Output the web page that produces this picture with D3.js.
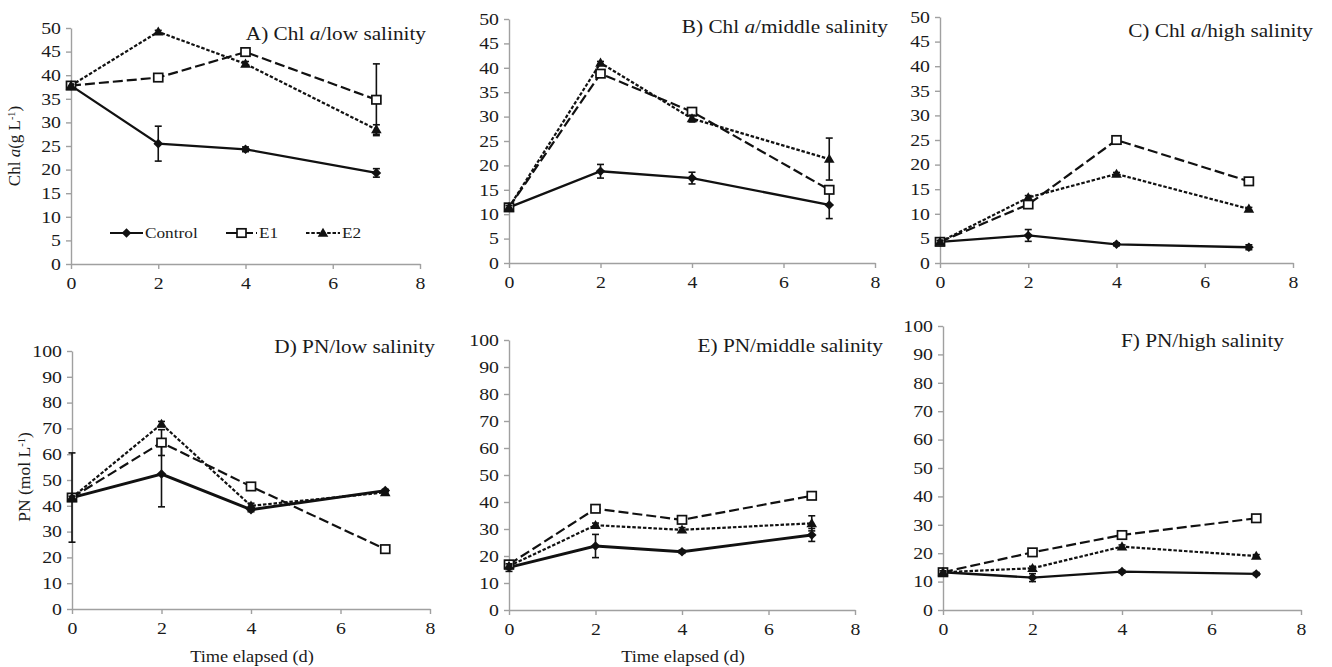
<!DOCTYPE html>
<html>
<head>
<meta charset="utf-8">
<script src="https://cdn.jsdelivr.net/npm/d3@7"></script>
<style>
  body { margin: 0; background: #fff; }
  text { font-family: "Liberation Serif", "Times New Roman", serif; fill: #1a1a1a; }
</style>
</head>
<body>
<div id="chart"></div>
<script>
// sampling days and tick labels
const days = [0, 2, 4, 7];
const xTickValues = [0, 2, 4, 6, 8];
const chlTickValues = [0, 5, 10, 15, 20, 25, 30, 35, 40, 45, 50];
const pnTickValues = [0, 10, 20, 30, 40, 50, 60, 70, 80, 90, 100];
const seriesNames = ["Control", "E1", "E2"];

// A) Chl a / low salinity
const chlLowControl = [37.8, 25.5, 24.3, 19.3];
const chlLowControlErr = [0, 3.7, 0.5, 0.9];
const chlLowE1 = [37.8, 39.5, 44.9, 34.8];
const chlLowE1Err = [0, 0.5, 0.5, 7.6];
const chlLowE2 = [37.8, 49.2, 42.4, 28.5];
const chlLowE2Err = [0, 0.3, 0.5, 1.0];

// B) Chl a / middle salinity
const chlMidControl = [11.4, 18.8, 17.4, 11.9];
const chlMidControlErr = [0.5, 1.4, 1.2, 2.8];
const chlMidE1 = [11.4, 38.8, 31.0, 15.0];
const chlMidE1Err = [0.4, 0.5, 0.5, 0.6];
const chlMidE2 = [11.4, 41.0, 29.6, 21.3];
const chlMidE2Err = [0.4, 0.3, 0.7, 4.3];

// C) Chl a / high salinity
const chlHighControl = [4.3, 5.6, 3.8, 3.2];
const chlHighControlErr = [0.4, 1.2, 0.3, 0.5];
const chlHighE1 = [4.3, 11.9, 25.0, 16.6];
const chlHighE1Err = [0.3, 0.5, 0.5, 0.5];
const chlHighE2 = [4.3, 13.3, 18.1, 11.0];
const chlHighE2Err = [0.3, 0.4, 0.3, 0.3];

// D) PN / low salinity
const pnLowControl = [43.2, 52.3, 38.5, 45.9];
const pnLowControlErr = [17.3, 12.7, 0.8, 0.5];
const pnLowE1 = [43.2, 64.5, 47.5, 23.2];
const pnLowE1Err = [0.5, 5.0, 0.8, 0.8];
const pnLowE2 = [43.2, 71.7, 40.0, 45.2];
const pnLowE2Err = [0.5, 1.0, 1.0, 0.8];

// E) PN / middle salinity
const pnMidControl = [15.8, 23.7, 21.6, 27.8];
const pnMidControlErr = [1.5, 4.3, 0.6, 2.4];
const pnMidE1 = [16.9, 37.5, 33.4, 42.3];
const pnMidE1Err = [0.6, 0.8, 0.8, 0.6];
const pnMidE2 = [16.3, 31.4, 29.7, 32.1];
const pnMidE2Err = [0.8, 0.8, 0.8, 2.8];

// F) PN / high salinity
const pnHighControl = [13.3, 11.4, 13.5, 12.7];
const pnHighControlErr = [0.8, 1.4, 0.5, 0.5];
const pnHighE1 = [13.3, 20.3, 26.4, 32.3];
const pnHighE1Err = [0.5, 0.6, 0.6, 0.6];
const pnHighE2 = [13.3, 14.7, 22.3, 19.0];
const pnHighE2Err = [0.5, 0.7, 0.6, 0.5];

const W = 1332, H = 667;
const SX = 1.15; // the figure is a bit wider than tall, stretch text to match
const TICK_SX = 1.2;

const panels = [
  {title: ["A) Chl ", "a", "/low salinity"], left: 71, right: 420, top: 28, bottom: 264, ymax: 50, ticks: chlTickValues,
   tx: 426, ty: 40, lw: 2.3, vals: [chlLowControl, chlLowE1, chlLowE2], errs: [chlLowControlErr, chlLowE1Err, chlLowE2Err]},
  {title: ["B) Chl ", "a", "/middle salinity"], left: 509, right: 875, top: 19, bottom: 263, ymax: 50, ticks: chlTickValues,
   tx: 888, ty: 33, lw: 2.3, vals: [chlMidControl, chlMidE1, chlMidE2], errs: [chlMidControlErr, chlMidE1Err, chlMidE2Err]},
  {title: ["C) Chl ", "a", "/high salinity"], left: 940, right: 1293, top: 17, bottom: 263, ymax: 50, ticks: chlTickValues,
   tx: 1313, ty: 37, lw: 2.3, vals: [chlHighControl, chlHighE1, chlHighE2], errs: [chlHighControlErr, chlHighE1Err, chlHighE2Err]},
  {title: ["D) PN/low salinity"], left: 72, right: 430, top: 351, bottom: 609, ymax: 100, ticks: pnTickValues,
   tx: 435, ty: 353, lw: 2.9, vals: [pnLowControl, pnLowE1, pnLowE2], errs: [pnLowControlErr, pnLowE1Err, pnLowE2Err]},
  {title: ["E) PN/middle salinity"], left: 509, right: 855, top: 340, bottom: 610, ymax: 100, ticks: pnTickValues,
   tx: 883, ty: 352, lw: 2.9, vals: [pnMidControl, pnMidE1, pnMidE2], errs: [pnMidControlErr, pnMidE1Err, pnMidE2Err]},
  {title: ["F) PN/high salinity"], left: 943, right: 1301, top: 326, bottom: 610, ymax: 100, ticks: pnTickValues,
   tx: 1284, ty: 347, lw: 2.3, vals: [pnHighControl, pnHighE1, pnHighE2], errs: [pnHighControlErr, pnHighE1Err, pnHighE2Err]}
];

const dashes = [null, "10,4", "3.5,1.8"];

const svg = d3.select("#chart").append("svg")
  .attr("width", W).attr("height", H);

function marker(g, k, x, y) {
  if (k === 0) {
    g.append("path")
      .attr("d", `M${x},${y - 4.8}L${x + 4.8},${y}L${x},${y + 4.8}L${x - 4.8},${y}Z`)
      .attr("fill", "#111");
  } else if (k === 1) {
    g.append("rect")
      .attr("x", x - 4.5).attr("y", y - 4.2).attr("width", 9).attr("height", 8.4)
      .attr("fill", "#fff").attr("stroke", "#111").attr("stroke-width", 1.7);
  } else {
    g.append("path")
      .attr("d", `M${x},${y - 5.3}L${x + 5.3},${y + 3.8}L${x - 5.3},${y + 3.8}Z`)
      .attr("fill", "#111");
  }
}

function drawPanel(p) {
  const x = d3.scaleLinear().domain([0, 8]).range([p.left, p.right]);
  const y = d3.scaleLinear().domain([0, p.ymax]).range([p.bottom, p.top]);
  const g = svg.append("g");

  const yAxis = g.append("g")
    .attr("transform", `translate(${p.left},0)`)
    .call(d3.axisLeft(y).tickValues(p.ticks).tickSize(5).tickPadding(6).tickSizeOuter(0));
  const xAxis = g.append("g")
    .attr("transform", `translate(0,${p.bottom})`)
    .call(d3.axisBottom(x).tickValues(xTickValues).tickSize(5).tickPadding(8).tickSizeOuter(0));

  [yAxis, xAxis].forEach(a => {
    a.select(".domain").attr("stroke", "#a0a0a0").attr("stroke-width", 1.4);
    a.selectAll(".tick line").attr("stroke", "#a0a0a0").attr("stroke-width", 1.4);
    a.selectAll(".tick text")
      .attr("font-family", "Liberation Serif, serif")
      .attr("font-size", 16.5)
      .attr("fill", "#1a1a1a")
      .attr("transform", `scale(${TICK_SX},1)`);
  });
  yAxis.selectAll(".tick text").attr("x", -10 / TICK_SX);

  p.vals.forEach((vals, k) => {
    const errs = p.errs[k];
    const pts = days.map((d, i) => ({x: x(d), y: y(vals[i]), lo: y(vals[i] - errs[i]), hi: y(vals[i] + errs[i]), e: errs[i]}));
    const sg = g.append("g");

    pts.filter(d => d.e > 0).forEach(d => {
      sg.append("line").attr("x1", d.x).attr("x2", d.x).attr("y1", d.lo).attr("y2", d.hi)
        .attr("stroke", "#111").attr("stroke-width", 1.6);
      [d.lo, d.hi].forEach(yy => sg.append("line")
        .attr("x1", d.x - 3.5).attr("x2", d.x + 3.5).attr("y1", yy).attr("y2", yy)
        .attr("stroke", "#111").attr("stroke-width", 1.6));
    });

    sg.append("path")
      .datum(pts)
      .attr("d", d3.line().x(d => d.x).y(d => d.y))
      .attr("fill", "none")
      .attr("stroke", "#111")
      .attr("stroke-width", k === 0 ? p.lw : 2.2)
      .attr("stroke-dasharray", dashes[k]);

    pts.forEach(d => marker(sg, k, d.x, d.y));
  });

  const t = g.append("text")
    .attr("transform", `translate(${p.tx},${p.ty}) scale(${SX},1)`)
    .attr("text-anchor", "end")
    .attr("font-size", 18.5);
  p.title.forEach((s, i) => t.append("tspan").attr("font-style", i === 1 ? "italic" : null).text(s));
}

panels.forEach(drawPanel);

// legend (panel A)
const legend = svg.append("g");
const legendItems = [
  {x1: 110, x2: 143, tx: 145},
  {x1: 226, x2: 257, tx: 259},
  {x1: 306, x2: 340, tx: 342}
];
legendItems.forEach((it, k) => {
  const ly = 233;
  legend.append("line").attr("x1", it.x1).attr("x2", it.x2).attr("y1", ly).attr("y2", ly)
    .attr("stroke", "#111").attr("stroke-width", 2.2).attr("stroke-dasharray", k === 1 ? "12,3" : dashes[k]);
  marker(legend, k, (it.x1 + it.x2) / 2, ly);
  legend.append("text")
    .attr("transform", `translate(${it.tx},${ly + 5}) scale(${SX},1)`)
    .attr("font-size", 15)
    .text(seriesNames[k]);
});

// axis titles
function sup(t, main, s) {
  t.append("tspan").text(main);
  t.append("tspan").attr("font-size", "0.6em").attr("dy", "-0.5em").text(s);
  t.append("tspan").attr("dy", "0.3em").text(")");
}
const yl1 = svg.append("text")
  .attr("transform", "translate(20,146) rotate(-90)")
  .attr("text-anchor", "middle").attr("font-size", 17);
yl1.append("tspan").text("Chl ");
yl1.append("tspan").attr("font-style", "italic").text("a");
sup(yl1, "(g L", "-1");

const yl2 = svg.append("text")
  .attr("transform", "translate(30,477) rotate(-90)")
  .attr("text-anchor", "middle").attr("font-size", 17.5);
sup(yl2, "PN (mol L", "-1");

[252, 683].forEach(cx => svg.append("text")
  .attr("transform", `translate(${cx},662) scale(1.08,1)`)
  .attr("text-anchor", "middle").attr("font-size", 17)
  .text("Time elapsed (d)"));
</script>
</body>
</html>
